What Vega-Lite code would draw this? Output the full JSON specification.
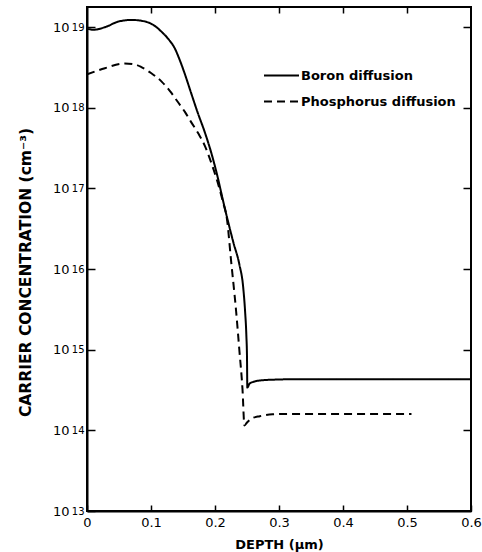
{
  "$schema": "https://vega.github.io/schema/vega-lite/v6.json",
  "autosize": {"type": "none"},
  "padding": {"left": 87, "top": 7, "right": 11, "bottom": 41},
  "width": 384,
  "height": 504,
  "background": "white",
  "config": {
    "font": "DejaVu Sans",
    "view": {"stroke": "black", "strokeWidth": 2},
    "axis": {"grid": false, "domainColor": "black", "domainWidth": 2, "tickColor": "black", "tickWidth": 1.5, "labelColor": "black", "titleColor": "black", "labelFont": "DejaVu Sans", "titleFont": "DejaVu Sans", "labelFontWeight": "normal", "titleFontWeight": "bold", "labelFontSize": 13, "titleFontSize": 13}
  },
  "data": {"values": [
    {"depth": 0, "conc": 9.6e18, "series": "Boron diffusion"},
    {"depth": 0.01, "conc": 9.3e18, "series": "Boron diffusion"},
    {"depth": 0.028, "conc": 1.0e19, "series": "Boron diffusion"},
    {"depth": 0.05, "conc": 1.18e19, "series": "Boron diffusion"},
    {"depth": 0.07, "conc": 1.23e19, "series": "Boron diffusion"},
    {"depth": 0.09, "conc": 1.18e19, "series": "Boron diffusion"},
    {"depth": 0.105, "conc": 1.05e19, "series": "Boron diffusion"},
    {"depth": 0.117, "conc": 8.7e18, "series": "Boron diffusion"},
    {"depth": 0.128, "conc": 7.0e18, "series": "Boron diffusion"},
    {"depth": 0.137, "conc": 5.5e18, "series": "Boron diffusion"},
    {"depth": 0.145, "conc": 3.9e18, "series": "Boron diffusion"},
    {"depth": 0.152, "conc": 2.75e18, "series": "Boron diffusion"},
    {"depth": 0.163, "conc": 1.5e18, "series": "Boron diffusion"},
    {"depth": 0.173, "conc": 8.7e17, "series": "Boron diffusion"},
    {"depth": 0.184, "conc": 5.0e17, "series": "Boron diffusion"},
    {"depth": 0.194, "conc": 2.8e17, "series": "Boron diffusion"},
    {"depth": 0.204, "conc": 1.4e17, "series": "Boron diffusion"},
    {"depth": 0.212, "conc": 7.4e16, "series": "Boron diffusion"},
    {"depth": 0.22, "conc": 4.0e16, "series": "Boron diffusion"},
    {"depth": 0.229, "conc": 2.1e16, "series": "Boron diffusion"},
    {"depth": 0.238, "conc": 1.15e16, "series": "Boron diffusion"},
    {"depth": 0.244, "conc": 6.0e15, "series": "Boron diffusion"},
    {"depth": 0.247, "conc": 3.0e15, "series": "Boron diffusion"},
    {"depth": 0.249, "conc": 1.5e15, "series": "Boron diffusion"},
    {"depth": 0.25, "conc": 8.0e14, "series": "Boron diffusion"},
    {"depth": 0.2505, "conc": 3.4e14, "series": "Boron diffusion"},
    {"depth": 0.254, "conc": 3.8e14, "series": "Boron diffusion"},
    {"depth": 0.26, "conc": 4.0e14, "series": "Boron diffusion"},
    {"depth": 0.27, "conc": 4.15e14, "series": "Boron diffusion"},
    {"depth": 0.29, "conc": 4.25e14, "series": "Boron diffusion"},
    {"depth": 0.32, "conc": 4.3e14, "series": "Boron diffusion"},
    {"depth": 0.6, "conc": 4.3e14, "series": "Boron diffusion"},
    {"depth": 0, "conc": 2.6e18, "series": "Phosphorus diffusion"},
    {"depth": 0.028, "conc": 3.1e18, "series": "Phosphorus diffusion"},
    {"depth": 0.059, "conc": 3.55e18, "series": "Phosphorus diffusion"},
    {"depth": 0.075, "conc": 3.45e18, "series": "Phosphorus diffusion"},
    {"depth": 0.085, "conc": 3.2e18, "series": "Phosphorus diffusion"},
    {"depth": 0.1, "conc": 2.7e18, "series": "Phosphorus diffusion"},
    {"depth": 0.117, "conc": 2.1e18, "series": "Phosphorus diffusion"},
    {"depth": 0.13, "conc": 1.6e18, "series": "Phosphorus diffusion"},
    {"depth": 0.142, "conc": 1.18e18, "series": "Phosphorus diffusion"},
    {"depth": 0.153, "conc": 8.9e17, "series": "Phosphorus diffusion"},
    {"depth": 0.163, "conc": 6.6e17, "series": "Phosphorus diffusion"},
    {"depth": 0.174, "conc": 4.8e17, "series": "Phosphorus diffusion"},
    {"depth": 0.184, "conc": 3.4e17, "series": "Phosphorus diffusion"},
    {"depth": 0.194, "conc": 2.1e17, "series": "Phosphorus diffusion"},
    {"depth": 0.204, "conc": 1.2e17, "series": "Phosphorus diffusion"},
    {"depth": 0.212, "conc": 7.0e16, "series": "Phosphorus diffusion"},
    {"depth": 0.219, "conc": 4.0e16, "series": "Phosphorus diffusion"},
    {"depth": 0.225, "conc": 1.3e16, "series": "Phosphorus diffusion"},
    {"depth": 0.233, "conc": 3.0e15, "series": "Phosphorus diffusion"},
    {"depth": 0.238, "conc": 1.0e15, "series": "Phosphorus diffusion"},
    {"depth": 0.243, "conc": 3.2e14, "series": "Phosphorus diffusion"},
    {"depth": 0.246, "conc": 1.15e14, "series": "Phosphorus diffusion"},
    {"depth": 0.25, "conc": 1.25e14, "series": "Phosphorus diffusion"},
    {"depth": 0.257, "conc": 1.4e14, "series": "Phosphorus diffusion"},
    {"depth": 0.27, "conc": 1.5e14, "series": "Phosphorus diffusion"},
    {"depth": 0.29, "conc": 1.58e14, "series": "Phosphorus diffusion"},
    {"depth": 0.32, "conc": 1.6e14, "series": "Phosphorus diffusion"},
    {"depth": 0.507, "conc": 1.6e14, "series": "Phosphorus diffusion"}
  ]},
  "resolve": {"axis": {"x": "independent", "y": "independent"}},
  "layer": [
    {
      "mark": {"type": "line", "color": "black", "strokeWidth": 2, "clip": true, "interpolate": "monotone"},
      "encoding": {
        "x": {
          "field": "depth", "type": "quantitative",
          "scale": {"domain": [0, 0.6], "nice": false, "zero": false},
          "axis": {"orient": "bottom", "title": "DEPTH (µm)", "values": [0, 0.1, 0.2, 0.3, 0.4, 0.5, 0.6], "format": "~g", "tickSize": -6, "labelPadding": 11, "titlePadding": 9, "labelFlush": false}
        },
        "y": {
          "field": "conc", "type": "quantitative",
          "scale": {"type": "log", "domain": [1e13, 1.78e19], "nice": false},
          "axis": {"orient": "left", "title": "CARRIER CONCENTRATION (cm⁻³)", "titleFontSize": 15.5, "titleY": 265, "values": [1e13, 1e14, 1e15, 1e16, 1e17, 1e18, 1e19], "tickSize": -8, "labelPadding": 26, "labelDy": -2.5, "titlePadding": 19, "labelExpr": "'10'"}
        },
        "strokeDash": {
          "field": "series", "type": "nominal",
          "scale": {"domain": ["Boron diffusion", "Phosphorus diffusion"], "range": [[1, 0], [8, 5]]},
          "legend": {"title": null, "orient": "none", "legendX": 176, "legendY": 50, "symbolType": "stroke", "symbolSize": 1225, "symbolStrokeWidth": 2, "symbolStrokeColor": "black", "labelFontSize": 13, "labelFont": "DejaVu Sans", "labelColor": "black", "labelFontWeight": "bold", "labelOffset": 1, "rowPadding": -18, "padding": 0, "labelLimit": 300}
        }
      }
    },
    {
      "mark": {"type": "point", "opacity": 0},
      "encoding": {
        "x": {
          "field": "depth", "type": "quantitative",
          "axis": {"orient": "top", "title": null, "values": [0.1, 0.2, 0.3, 0.4, 0.5], "labels": false, "domain": false, "tickSize": -6}
        },
        "y": {
          "field": "conc", "type": "quantitative",
          "axis": {"orient": "left", "title": null, "values": [1e13, 1e14, 1e15, 1e16, 1e17, 1e18, 1e19], "ticks": false, "tickSize": 0, "domain": false, "labelPadding": 3, "labelFontSize": 10, "labelDy": -7,
            "labelExpr": "datum.value >= 0.9e19 ? '19' : datum.value >= 0.9e18 ? '18' : datum.value >= 0.9e17 ? '17' : datum.value >= 0.9e16 ? '16' : datum.value >= 0.9e15 ? '15' : datum.value >= 0.9e14 ? '14' : '13'"}
        }
      }
    },
    {
      "mark": {"type": "point", "opacity": 0},
      "encoding": {
        "x": {"field": "depth", "type": "quantitative", "axis": null},
        "y": {
          "field": "conc", "type": "quantitative",
          "axis": {"orient": "right", "title": null, "values": [1e14, 1e15, 1e16, 1e17, 1e18, 1e19], "labels": false, "domain": false, "tickSize": -8}
        }
      }
    }
  ]
}
